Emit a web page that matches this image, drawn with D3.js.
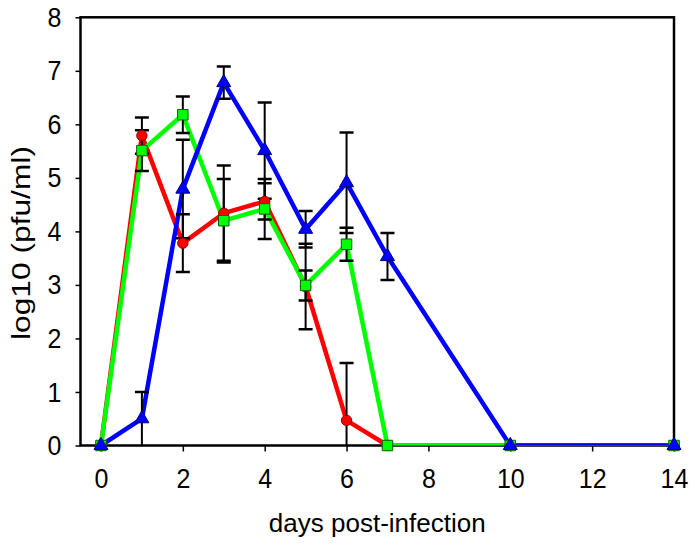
<!DOCTYPE html>
<html>
<head>
<meta charset="utf-8">
<script src="https://cdn.jsdelivr.net/npm/d3@7"></script>
<style>
  html, body { margin: 0; padding: 0; background: #fff; }
  svg { display: block; }
  text { font-family: "Liberation Sans", Arial, sans-serif; fill: #000; }
</style>
</head>
<body>
<svg id="chart" width="695" height="546"></svg>
<script>
// ---- data ----
const days = [0, 1, 2, 3, 4, 5, 6, 7, 10, 14];
const redValues   = [0, 5.79, 3.78, 4.34, 4.56, 2.97, 0.47, 0, 0, 0];
const redErrors   = [0, 0.34, 0.54, 0.89, 0.34, 0.80, 1.07, 0, 0, 0];
const greenValues = [0, 5.51, 6.18, 4.20, 4.42, 2.99, 3.76, 0, 0, 0];
const greenErrors = [0, 0.38, 0.34, 0.78, 0.56, 0.28, 0.31, 0, 0, 0];
const blueValues  = [0, 0.50, 4.79, 6.78, 5.51, 4.04, 4.91, 3.53, 0, 0];
const blueErrors  = [0, 0.50, 0.92, 0.30, 0.90, 0.34, 0.94, 0.44, 0, 0];
const xTicks = [0, 2, 4, 6, 8, 10, 12, 14];
const yTicks = [0, 1, 2, 3, 4, 5, 6, 7, 8];
const xTitle = "days post-infection";
const yTitle = "log10 (pfu/ml)";

const series = [
  { values: redValues,   errors: redErrors,   color: "#ff0000", stroke: "#8b0000", shape: "circle" },
  { values: greenValues, errors: greenErrors, color: "#00ff00", stroke: "#006000", shape: "square" },
  { values: blueValues,  errors: blueErrors,  color: "#0000ff", stroke: "#000080", shape: "triangle" }
];

// ---- layout ----
const pLeft = 80.5, pRight = 674, pTop = 17.3, pBottom = 445.5;
const svg = d3.select("#chart");
const x = d3.scaleLinear().domain([-0.5, 14]).range([pLeft, pRight]);
const y = d3.scaleLinear().domain([0, 8]).range([pBottom, pTop]);

// axes
const yAxis = d3.axisLeft(y).tickValues(yTicks).tickSize(5).tickPadding(14).tickFormat(d3.format("d"));
const xAxis = d3.axisBottom(x).tickValues(xTicks).tickSize(6).tickPadding(14).tickFormat(d3.format("d"));

const gy = svg.append("g").attr("transform", `translate(${pLeft},0)`).call(yAxis);
const gx = svg.append("g").attr("transform", `translate(0,${pBottom})`).call(xAxis);
[gx, gy].forEach(g => {
  g.select(".domain").remove();
  g.selectAll(".tick line").attr("stroke", "#000").attr("stroke-width", 1.5);
  g.selectAll(".tick text").attr("font-size", 25).attr("font-family", "Liberation Sans, Arial, sans-serif").attr("fill", "#000");
});
// slightly taller glyphs, as in the reference
gy.selectAll(".tick text").attr("transform", "scale(1,1.13)");
gx.selectAll(".tick text").attr("transform", "translate(0,33) scale(1,1.13) translate(0,-29)");

// frame
svg.append("rect")
  .attr("x", pLeft).attr("y", pTop)
  .attr("width", pRight - pLeft).attr("height", pBottom - pTop)
  .attr("fill", "none").attr("stroke", "#000").attr("stroke-width", 2.5);

// clip for data
svg.append("clipPath").attr("id", "plotclip")
  .append("rect").attr("x", pLeft).attr("y", pTop - 5).attr("width", pRight - pLeft + 10).attr("height", pBottom - pTop + 5);

const plot = svg.append("g").attr("clip-path", "url(#plotclip)");

const line = d3.line().x(d => x(d.day)).y(d => y(d.v));
const rows = s => days.map((d, i) => ({ day: d, v: s.values[i], e: s.errors[i] }));

// lines
series.forEach(s => {
  plot.append("path").datum(rows(s))
    .attr("d", line)
    .attr("fill", "none").attr("stroke", s.color)
    .attr("stroke-width", 4.5).attr("stroke-linejoin", "round");
});

// error bars
const capW = 7;
series.forEach(s => {
  const r = rows(s).filter(d => d.e > 0);
  const g = plot.append("g").attr("stroke", "#000");
  g.selectAll("line.v").data(r).join("line")
    .attr("x1", d => x(d.day)).attr("x2", d => x(d.day))
    .attr("y1", d => y(Math.max(0, d.v - d.e))).attr("y2", d => y(d.v + d.e))
    .attr("stroke-width", 2);
  g.selectAll("line.t").data(r).join("line")
    .attr("x1", d => x(d.day) - capW).attr("x2", d => x(d.day) + capW)
    .attr("y1", d => y(d.v + d.e)).attr("y2", d => y(d.v + d.e))
    .attr("stroke-width", 2.5);
  g.selectAll("line.b").data(r.filter(d => d.v - d.e > 0)).join("line")
    .attr("x1", d => x(d.day) - capW).attr("x2", d => x(d.day) + capW)
    .attr("y1", d => y(d.v - d.e)).attr("y2", d => y(d.v - d.e))
    .attr("stroke-width", 2.5);
});

// markers
const sym = { circle: d3.symbolCircle, square: d3.symbolSquare, triangle: d3.symbolTriangle };
const size = { circle: 85, square: 110, triangle: 85 };
series.forEach(s => {
  svg.append("g").selectAll("path").data(rows(s)).join("path")
    .attr("transform", d => `translate(${x(d.day)},${y(d.v)})`)
    .attr("d", d3.symbol().type(sym[s.shape]).size(size[s.shape]))
    .attr("fill", s.color).attr("stroke", s.stroke).attr("stroke-width", 1);
});

// titles
svg.append("text")
  .attr("x", (pLeft + pRight) / 2).attr("y", 532)
  .attr("text-anchor", "middle").attr("font-size", 26)
  .text(xTitle);
svg.append("text")
  .attr("transform", `translate(30,243) scale(1,1.22) rotate(-90)`)
  .attr("text-anchor", "middle").attr("font-size", 26)
  .text(yTitle);
</script>
</body>
</html>
